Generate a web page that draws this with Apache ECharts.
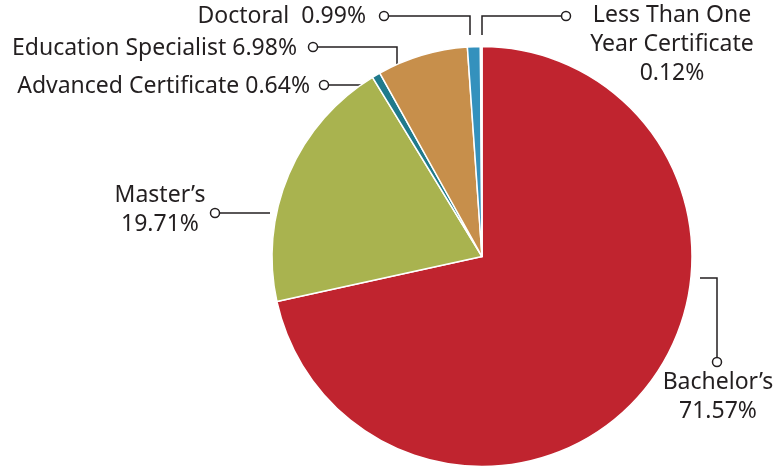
<!DOCTYPE html>
<html><head><meta charset="utf-8">
<script src="https://cdn.jsdelivr.net/npm/echarts@6/dist/echarts.min.js"></script>
<style>html,body{margin:0;padding:0;background:#fff}#c{width:775px;height:468px}</style>
</head><body><div id="c"></div>
<script>
// Data
const categories = ["Bachelor\u2019s", "Master\u2019s", "Advanced Certificate", "Education Specialist", "Doctoral", "Less Than One Year Certificate"];
const percents = [71.57, 19.71, 0.64, 6.98, 0.99, 0.12];
const labelTexts = ["Bachelor\u2019s\n71.57%", "Master\u2019s\n19.71%", "Advanced Certificate 0.64%", "Education Specialist 6.98%", "Doctoral  0.99%", "Less Than One\nYear Certificate\n0.12%"];
const colors = ["#c0242f", "#a9b34f", "#1f7a8c", "#c78f4b", "#3491bd", "#eef2f4"];

// Label placement (annotation layout, pixels)
const labelPos = [
  {x: 718, y: 397, align: 'center', line: [[700,278],[717,278],[717,357]], dot: [717,362]},
  {x: 160, y: 210, align: 'center', line: [[270,213],[220,213]], dot: [215,213]},
  {x: 310, y: 86, align: 'right', line: [[376,85],[329,85]], dot: [324,85]},
  {x: 297, y: 48, align: 'right', line: [[397,66],[397,47],[318,47]], dot: [313,47]},
  {x: 366, y: 16, align: 'right', line: [[470,35],[470,16],[389,16]], dot: [384,16]},
  {x: 672, y: 44, align: 'center', line: [[482,35],[482,16],[561,16]], dot: [566,16]}
];

const chart = echarts.init(document.getElementById('c'));
const data = categories.map((n, i) => ({name: n, value: percents[i], itemStyle: {color: colors[i]}}));
chart.setOption({
  animation: false,
  graphic: labelPos.map(p => ({
    type: 'circle', shape: {cx: p.dot[0], cy: p.dot[1], r: 4.5},
    style: {fill: '#fff', stroke: '#231f20', lineWidth: 1.5}, z: 100
  })),
  series: [{
    type: 'pie',
    center: [482, 256.5],
    radius: 210,
    startAngle: 90,
    clockwise: true,
    avoidLabelOverlap: false,
    itemStyle: {borderColor: '#fff', borderWidth: 1.5},
    label: {
      show: true, position: 'outside',
      formatter: p => labelTexts[p.dataIndex],
      fontFamily: 'Noto Sans', fontSize: 23, lineHeight: 29, color: '#231f20'
    },
    labelLine: {show: true, lineStyle: {color: '#231f20', width: 1.5}},
    labelLayout: params => {
      const p = labelPos[params.dataIndex];
      return {x: p.x, y: p.y, align: p.align, verticalAlign: 'middle', labelLinePoints: p.line};
    },
    emphasis: {disabled: true},
    data: data
  }]
});
</script></body></html>
